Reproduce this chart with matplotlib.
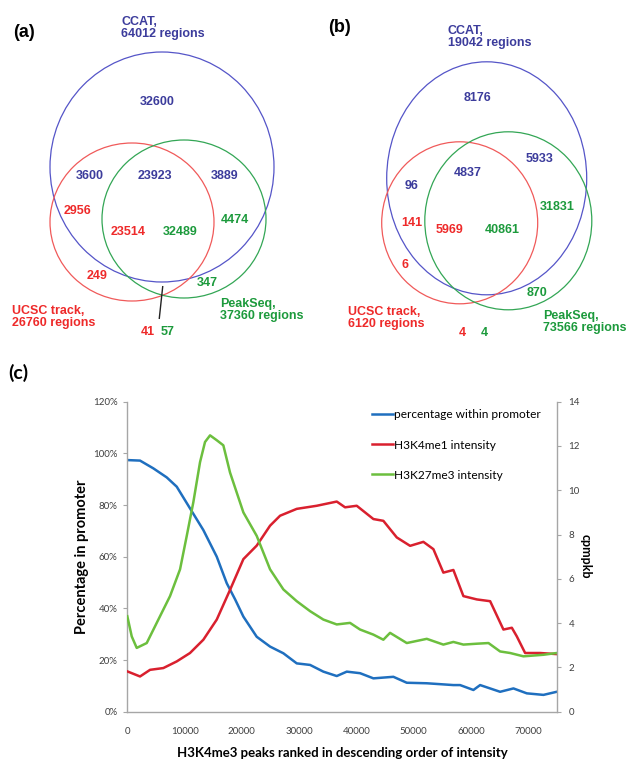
import matplotlib.pyplot as plt
from matplotlib.patches import Ellipse
from matplotlib.ticker import PercentFormatter, MultipleLocator

# ---- data ----
# Venn (a)
a_titles = ["CCAT,\n64012 regions", "UCSC track,\n26760 regions", "PeakSeq,\n37360 regions"]
a_counts = ["32600", "3600", "23923", "3889", "2956", "23514", "32489", "4474", "249", "347", "41", "57"]
a_colors = ["b", "b", "b", "b", "r", "r", "g", "g", "r", "g", "r", "g"]

# Venn (b)
b_titles = ["CCAT,\n19042 regions", "UCSC track,\n6120 regions", "PeakSeq,\n73566 regions"]
b_counts = ["8176", "5933", "4837", "96", "31831", "141", "5969", "40861", "6", "870", "4", "4"]
b_colors = ["b", "b", "b", "b", "g", "r", "r", "g", "r", "g", "r", "g"]

# (c) curves
blue_x = [0, 2220, 4540, 6880, 8630, 10950, 13280, 15620, 17370, 18820, 20270, 22600,
          24930, 27260, 29590, 31920, 34240, 36580, 38330, 40650, 42980, 46470, 48810,
          52300, 56950, 58120, 60450, 61620, 65110, 67440, 69770, 72680, 75000]
blue_pct = [97.4, 97.2, 94.2, 90.7, 87.1, 78.7, 70.3, 60.0, 49.7, 43.5, 36.8, 29.0,
            25.2, 22.6, 18.7, 18.1, 15.5, 13.8, 15.5, 14.9, 12.9, 13.5, 11.2,
            11.0, 10.3, 10.3, 8.4, 10.3, 7.7, 9.0, 7.1, 6.5, 7.7]

red_x = [0, 2220, 3970, 6290, 8630, 10950, 13280, 15620, 17940, 20270, 22600, 24930,
         26680, 29590, 33090, 36580, 38030, 40070, 42980, 44720, 47060, 49390, 51710,
         53460, 55200, 56950, 58700, 61040, 63370, 65690, 67160, 68030, 69480, 72100, 75000]
red_cpm = [1.82, 1.59, 1.89, 1.97, 2.27, 2.65, 3.25, 4.16, 5.5, 6.89, 7.5, 8.4,
           8.85, 9.16, 9.3, 9.49, 9.23, 9.3, 8.7, 8.62, 7.87, 7.49, 7.67,
           7.34, 6.28, 6.4, 5.22, 5.07, 4.99, 3.71, 3.79, 3.4, 2.65, 2.65, 2.6]

green_x = [0, 770, 1640, 3390, 5710, 7460, 9210, 10380, 11530, 12700, 13570, 14450,
           15620, 16770, 17940, 20270, 22600, 24930, 27260, 29590, 31920, 34240, 36580,
           38900, 40650, 42980, 44720, 45890, 48810, 52300, 55200, 56950, 58700, 61040,
           63080, 65110, 66860, 69180, 72680, 75000]
green_cpm = [4.31, 3.4, 2.88, 3.1, 4.31, 5.22, 6.43, 7.94, 9.46, 11.27, 12.18, 12.48,
             12.26, 12.03, 10.8, 9.0, 7.94, 6.43, 5.52, 4.99, 4.54, 4.16, 3.94,
             4.01, 3.71, 3.48, 3.25, 3.56, 3.1, 3.29, 3.03, 3.15, 3.03, 3.07,
             3.1, 2.72, 2.65, 2.5, 2.57, 2.65]

legend_labels = ["percentage within promoter", "H3K4me1 intensity", "H3K27me3 intensity"]

# ---- styles / layout ----
txt_col = {"b": "#3c3c9c", "r": "#ee2a2a", "g": "#1c9a3c"}
ring_col = ["#5555c8", "#f05a5a", "#33a655"]

fig = plt.figure(figsize=(6.3, 7.65), dpi=100)

# overlay in pixel coordinates for the Venn panels
ov = fig.add_axes([0, 0, 1, 1])
ov.set_xlim(0, 630)
ov.set_ylim(765, 0)
ov.axis("off")

vfont = dict(family="Liberation Sans", fontweight="bold", fontsize=9)

# (a)
a_rings = [((162, 167), 224, 230), ((132, 222), 164, 158), ((184, 219), 164, 158)]
for (c, w, h), col in zip(a_rings, ring_col):
    ov.add_patch(Ellipse(c, w, h, fill=False, ec=col, lw=0.9))
a_pos = [(157, 102), (90, 176), (155, 176), (225, 176), (78, 211), (128, 232),
         (180, 232), (235, 220), (97, 276), (207, 283), (148, 332), (168, 332)]
for s, (x, y), c in zip(a_counts, a_pos, a_colors):
    ov.text(x, y, s, color=txt_col[c], ha="center", va="center", **vfont)
a_tpos = [(121, 28), (12, 317), (220, 310)]
for s, (x, y), c in zip(a_titles, a_tpos, ["b", "r", "g"]):
    ov.text(x, y, s, color=txt_col[c], ha="left", va="center", linespacing=1.05, **vfont)
ov.plot([162.7, 159.3], [286.7, 318.3], color="#222222", lw=1.0)
ov.text(13, 32, "(a)", fontsize=13, fontweight="bold", family="Liberation Sans",
        ha="left", va="center")

# (b)
b_rings = [((486.7, 178.3), 200, 233), ((459.7, 222.8), 156, 162), ((508.3, 220.8), 167, 178)]
for (c, w, h), col in zip(b_rings, ring_col):
    ov.add_patch(Ellipse(c, w, h, fill=False, ec=col, lw=0.9))
b_pos = [(478, 98), (540, 159), (468, 173), (412, 186), (557, 207), (412, 223),
         (450, 230), (502, 230), (405, 265), (537, 293), (462, 333), (484, 333)]
for s, (x, y), c in zip(b_counts, b_pos, b_colors):
    ov.text(x, y, s, color=txt_col[c], ha="center", va="center", **vfont)
b_tpos = [(448, 37), (348, 318), (543, 322)]
for s, (x, y), c in zip(b_titles, b_tpos, ["b", "r", "g"]):
    ov.text(x, y, s, color=txt_col[c], ha="left", va="center", linespacing=1.05, **vfont)
ov.text(328, 27, "(b)", fontsize=13, fontweight="bold", family="Liberation Sans",
        ha="left", va="center")

# (c)
ov.text(8, 373, "(c)", fontsize=14, fontweight="bold", family="Lato",
        ha="left", va="center")

ax = fig.add_axes([0.2021, 0.0697, 0.6825, 0.4052])
ax2 = ax.twinx()

l1, = ax.plot(blue_x, [v / 100 for v in blue_pct], color="#1f6fbf", lw=1.8)
l2, = ax2.plot(red_x, red_cpm, color="#d9202e", lw=1.8)
l3, = ax2.plot(green_x, green_cpm, color="#6cbf3e", lw=1.8)

ax.set_xlim(0, 75100)
ax.set_ylim(0, 1.2)
ax2.set_ylim(0, 14)
ax.yaxis.set_major_locator(MultipleLocator(0.2))
ax.yaxis.set_major_formatter(PercentFormatter(1.0, decimals=0))
ax2.yaxis.set_major_locator(MultipleLocator(2))
ax.xaxis.set_major_locator(MultipleLocator(10000))

grey = "#a6a6a6"
for a in (ax, ax2):
    a.spines["top"].set_visible(False)
    for s in ("left", "right", "bottom"):
        a.spines[s].set_color(grey)
        a.spines[s].set_linewidth(1.0)
ax.spines["right"].set_visible(False)
ax2.spines["left"].set_visible(False)
ax2.spines["bottom"].set_visible(False)

tfont = dict(labelsize=7, labelcolor="#404040", color=grey)
ax.tick_params(axis="y", length=3, pad=4, **tfont)
ax.tick_params(axis="x", length=0, pad=11, **tfont)
ax2.tick_params(axis="y", length=3, pad=5, **tfont)
for t in ax.get_xticklabels() + ax.get_yticklabels() + ax2.get_yticklabels():
    t.set_family("Lato")

ax.set_xlabel("H3K4me3 peaks ranked in descending order of intensity",
              family="Lato", fontweight="bold", fontsize=9.5, labelpad=8)
ax.set_ylabel("Percentage in promoter", family="Lato", fontweight="bold",
              fontsize=10.5, labelpad=3)
ax2.set_ylabel("cpmpkb", family="Lato", fontweight="bold", fontsize=9,
               rotation=270, va="bottom", labelpad=0)

ax2.legend([l1, l2, l3], legend_labels, loc="upper left",
           bbox_to_anchor=(0.568, 0.975), frameon=False, borderpad=0,
           borderaxespad=0, handlelength=1.8, handletextpad=0.1,
           labelspacing=1.6, prop={"family": "Lato", "size": 8.6})

plt.savefig("out.png", dpi=100)
